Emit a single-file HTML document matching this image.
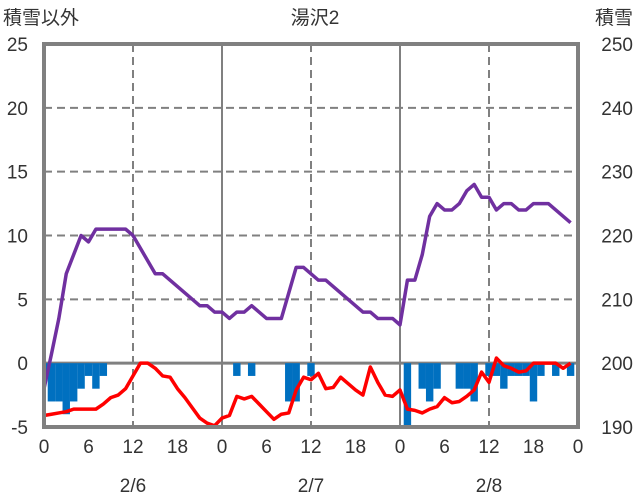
<!DOCTYPE html>
<html><head><meta charset="utf-8"><style>
body{margin:0;background:#fff;}
svg{display:block;font-family:"Liberation Sans","Noto Sans CJK JP",sans-serif;}
</style></head><body>
<svg id="chart" width="636" height="501">
<g id="grid"></g><g id="bars"></g><g id="lines"></g><g id="axes"></g>
</svg>
<script>
const hours = Array.from({length:72},(_,i)=>i);
const tempValues = [-4.1,-4,-3.9,-3.8,-3.6,-3.6,-3.6,-3.6,-3.2,-2.7,-2.5,-2,-1,0,0,-0.4,-1,-1.1,-2,-2.7,-3.5,-4.3,-4.7,-4.9,-4.3,-4.1,-2.6,-2.8,-2.6,-3.2,-3.8,-4.4,-4,-3.9,-2.1,-1.1,-1.3,-0.8,-2,-1.9,-1.1,-1.6,-2.1,-2.5,-0.3,-1.5,-2.5,-2.6,-2.1,-3.6,-3.7,-3.9,-3.6,-3.4,-2.7,-3.1,-3,-2.6,-2.1,-0.7,-1.5,0.4,-0.2,-0.4,-0.7,-0.6,0,0,0,0,-0.4,0];
const changeValues = [-1,-3,-3,-4,-3,-2,-1,-2,-1,0,0,0,0,0,0,0,0,0,0,0,0,0,0,0,0,0,-1,0,-1,0,0,0,0,-3,-3,0,-1,0,0,0,0,0,0,0,0,0,0,0,0,-5,0,-2,-3,-2,0,0,-2,-2,-3,0,-1,-1,-2,-1,-1,-1,-3,-1,0,-1,0,-1];
const depthValues = [196,201.4,207,214,217,220,219,221,221,221,221,221,220,218,216,214,214,213,212,211,210,209,209,208,208,207,208,208,209,208,207,207,207,211,215,215,214,213,213,212,211,210,209,208,208,207,207,207,206,213,213,217,223,225,224,224,225,227,228,226,226,224,225,225,224,224,225,225,225,224,223,222];
const leftTicks = [-5,0,5,10,15,20,25];
const rightTicks = [190,200,210,220,230,240,250];
const xTickLabels = ["0","6","12","18","0","6","12","18","0","6","12","18","0"];
const dateLabels = ["2/6","2/7","2/8"];

const L=44,R=578,T=44,B=427;
const xS=h=>L+(R-L)*h/72;
const yL=v=>B-(v+5)/30*(B-T);
const yR=v=>B-(v-190)/60*(B-T);
const NS="http://www.w3.org/2000/svg";
function mk(parent,tag,attrs){const e=document.createElementNS(NS,tag);for(const k in attrs)e.setAttribute(k,attrs[k]);document.getElementById(parent).appendChild(e);return e;}

leftTicks.forEach(t=>{
  if(t===-5||t===25||t===0)return;
  const g=mk('grid','line',{x1:L,x2:R,y1:yL(t),y2:yL(t),stroke:'#808080','stroke-width':2,'stroke-dasharray':'8,5'});
  
  
});
[12,36,60].forEach(h=>{
  const g=mk('grid','line',{x1:xS(h),x2:xS(h),y1:T,y2:B,stroke:'#808080','stroke-width':2,'stroke-dasharray':'8,5'});
  
  
});
[24,48].forEach(h=>{
  const g=mk('grid','line',{x1:xS(h),x2:xS(h),y1:T,y2:B,stroke:'#808080','stroke-width':2});
  
  
});

const bw=(R-L)/72;
changeValues.forEach((v,i)=>{
  if(v===0)return;
  let x0=xS(hours[i])-bw/2, x1=x0+bw;
  x0=Math.max(x0,L);
  const r=mk('bars','rect',{x:x0,y:yL(0),width:x1-x0,height:yL(v)-yL(0),fill:'#0070C0'});
  
  
});

const z=mk('grid','line',{x1:L,x2:R,y1:yL(0),y2:yL(0),stroke:'#808080','stroke-width':3});



const pd=mk('lines','polyline',{points:hours.map((h,i)=>xS(h)+','+yR(depthValues[i])).join(' '),fill:'none',stroke:'#7030A0','stroke-width':3.5,'stroke-linejoin':'round'});


const pt=mk('lines','polyline',{points:hours.map((h,i)=>xS(h)+','+yL(tempValues[i])).join(' '),fill:'none',stroke:'#FF0000','stroke-width':3.5,'stroke-linejoin':'round'});



const bx=mk('axes','rect',{x:L,y:T,width:R-L,height:B-T,fill:'none',stroke:'#808080','stroke-width':4});



function txt(x,y,s,anchor,name){const t=mk('axes','text',{x:x,y:y,'text-anchor':anchor,'font-size':19,fill:'#333'});t.textContent=s;
  
  
  return t;}
leftTicks.forEach(t=>txt(28,yL(t)+7,String(t),'end','left-tick-label'));
rightTicks.forEach(t=>txt(633,yR(t)+7,String(t),'end','right-tick-label'));
xTickLabels.forEach((s,i)=>txt(xS(i*6),453,s,'middle','x-tick-label'));
dateLabels.forEach((s,i)=>txt(xS(12+24*i),492,s,'middle','date-label'));
txt(3,24,'積雪以外','start','left-axis-title');
txt(633,24,'積雪','end','right-axis-title');
txt(315,24,'湯沢2','middle','chart-title');
</script>
</body></html>
